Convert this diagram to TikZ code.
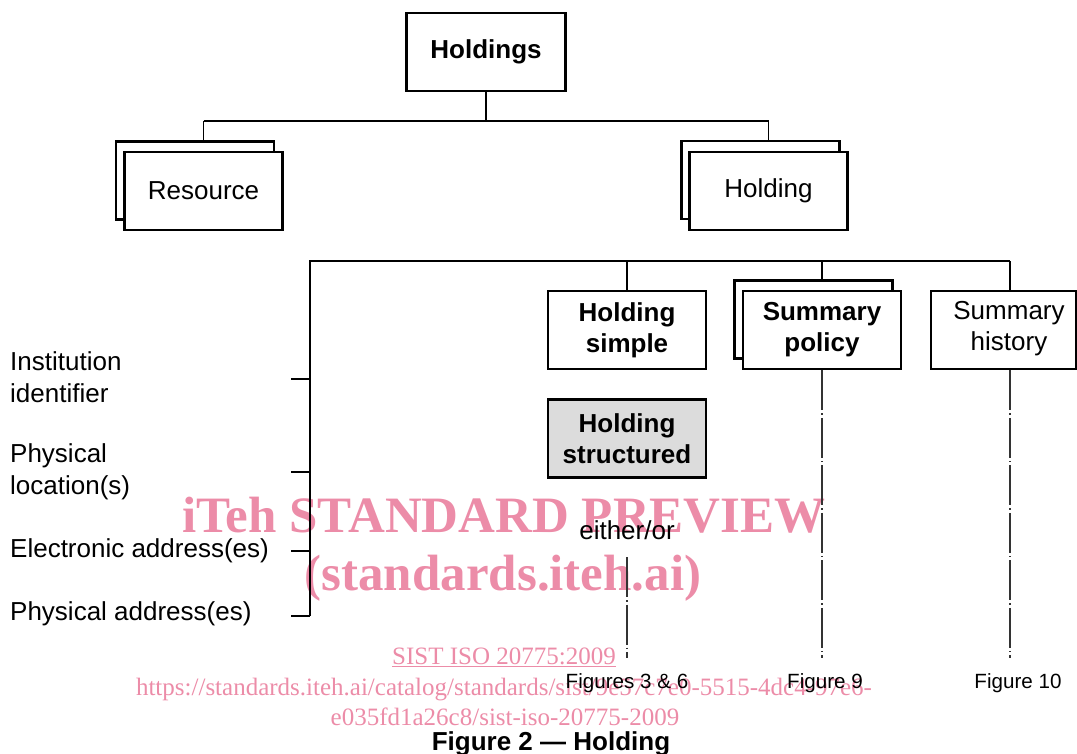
\documentclass[tikz,border=0pt]{standalone}
\usepackage{fontspec}
\setmainfont{Liberation Sans}
\newfontfamily\wmfont{Liberation Serif}
\definecolor{wm}{RGB}{236,140,168}
\definecolor{sgray}{RGB}{220,220,220}
\begin{document}
\begin{tikzpicture}[x=1pt,y=-1pt,
  box/.style={draw=black, line width=2.5pt, fill=white, minimum width=158pt, minimum height=78pt, inner sep=0pt, align=center, font=\fontsize{26}{31}\selectfont},
  bbox/.style={box, font=\bfseries\fontsize{26}{31}\selectfont},
  conn/.style={line width=1.3pt, black},
  ddot/.style={line width=1.3pt, black!80, dash pattern=on 40pt off 3pt on 1.5pt off 3pt},
  lab/.style={anchor=west, inner sep=0pt, align=left, font=\fontsize{26}{32}\selectfont},
  figlab/.style={anchor=base, inner sep=0pt, font=\fontsize{20.6}{24}\selectfont},
  wmbig/.style={anchor=base, inner sep=0pt, text=wm, font=\wmfont\bfseries\fontsize{51}{51}\selectfont},
  wmsmall/.style={anchor=base, inner sep=0pt, text=wm, font=\wmfont\fontsize{25}{25}\selectfont}
]
\useasboundingbox (0,0) rectangle (1077,753);

% watermark (beneath)
\node[wmbig] (wm1) at (504,532) {iTeh STANDARD PREVIEW};
\node[wmbig] (wm2) at (503,590) {(standards.iteh.ai)};
\node[wmsmall] (wm3) at (504,664) {\underline{SIST ISO 20775:2009}};
\node[wmsmall] (wm4) at (504,695) {https://standards.iteh.ai/catalog/standards/sist/9e57c7e0-5515-4dc4-97e6-};
\node[wmsmall] (wm5) at (505,725) {e035fd1a26c8/sist-iso-20775-2009};

% top box
\node[bbox, minimum width=159pt] (hold) at (486,52) {Holdings};

% Resource (double)
\node[box, minimum width=158pt] (resB) at (195,180.5) {};
\node[box, minimum width=158pt] (res) at (203.5,191) {Resource};
% Holding (double)
\node[box] (holB) at (760.5,180) {};
\node[box] (hol) at (768.5,191) {Holding};

% second level
\node[bbox] (hsim) at (627,330) {Holding\\simple};
\node[bbox, fill=sgray] (hstr) at (627,438.5) {Holding\\structured};
\node[box] (spB) at (813.5,319.7) {};
\node[bbox] (sp) at (822,330) {Summary\\policy};
\node[box, minimum width=145pt] (sh) at (1003.5,330) {};
\node[inner sep=0pt, align=center, font=\fontsize{26}{31}\selectfont] (sht) at (1009,329) {Summary\\history};

% connectors, top
\coordinate (bus1) at (486,121);
\draw[conn] (hold.south) -- (bus1);
\draw[conn] (res.center |- bus1) -- (hol.center |- bus1);
\draw[conn] (res.center |- bus1) -- (res.center |- resB.north);
\draw[conn] (hol.center |- bus1) -- (hol.center |- holB.north);

% bus 2
\coordinate (b2l) at (310,261);
\coordinate (b2r) at (1010,261);
\coordinate (b2b) at (310,616);
\draw[conn] (b2b) -- (b2l) -- (b2r);
\draw[conn] (hsim.north |- b2l) -- (hsim.north);
\draw[conn] (sp.north |- b2l) -- (sp.north |- spB.north);
\draw[conn] (b2r) -- (b2r |- sh.north);

% left labels
\node[lab] (l1) at (10,377) {Institution\\identifier};
\node[lab] (l2) at (10,472) {Physical\\location(s)};
\node[lab] (l3) at (10,551) {Electronic address(es)};
\node[lab] (l4) at (10,614) {Physical address(es)};
\foreach \yy/\nm in {379/t1,472/t2,551/t3,616/t4}{
  \coordinate (\nm) at (291,\yy);
  \draw[conn] (\nm) -- (\nm -| b2l);
}

% either/or
\node[inner sep=0pt, font=\fontsize{26}{31}\selectfont] (eo) at (627,530) {either/or};

% bottom labels
\node[figlab] (f36) at (627,688) {Figures 3 \& 6};
\node[figlab] (f9) at (825,688) {Figure 9};
\node[figlab] (f10) at (1018,688) {Figure 10};

% dash-dot lines
\coordinate (e1) at (627,557);
\draw[ddot] (e1) -- (e1 |- 0,658);
\draw[ddot] (sp.south) -- (sp.south |- 0,658);
\draw[ddot] (sh.south -| b2r) -- (b2r |- 0,658);

% caption
\node[anchor=base, inner sep=0pt, font=\bfseries\fontsize{26}{31}\selectfont] (cap) at (551,750) {Figure 2 — Holding};
\end{tikzpicture}
\end{document}
